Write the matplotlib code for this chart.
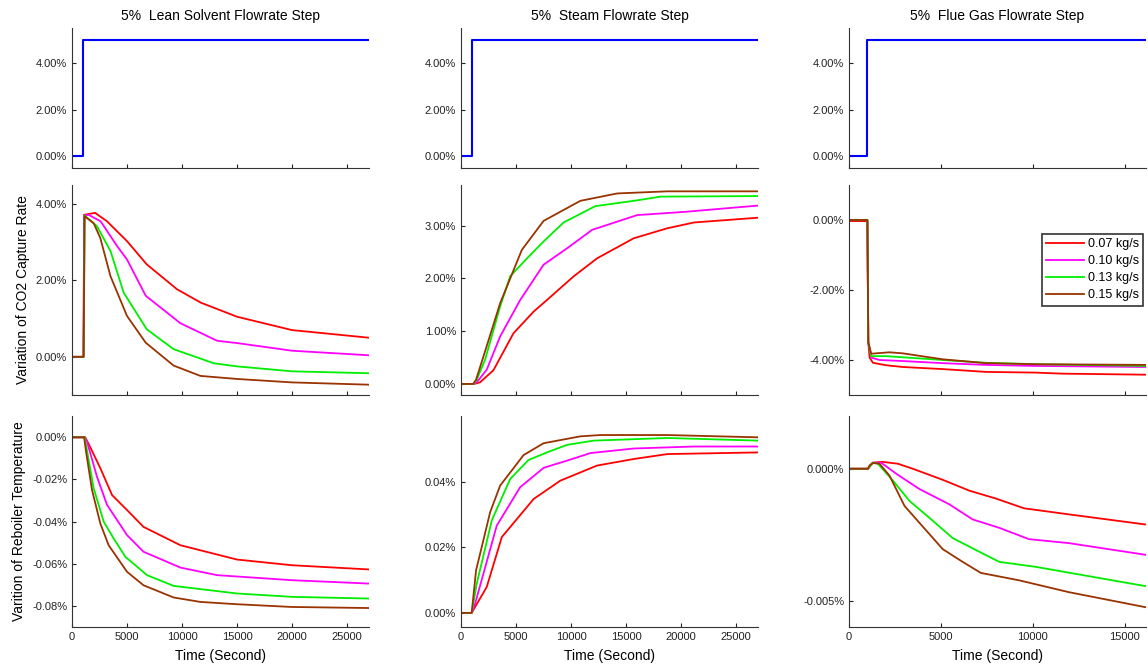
import numpy as np
import matplotlib.pyplot as plt
from matplotlib.ticker import FuncFormatter

plt.rcParams['font.family'] = ['Liberation Sans', 'DejaVu Sans']

# Legend / series
labels = ["0.07 kg/s", "0.10 kg/s", "0.13 kg/s", "0.15 kg/s"]
colors = ["#ff0000", "#ff00ff", "#00ee00", "#993300"]

titles = ["5%  Lean Solvent Flowrate Step", "5%  Steam Flowrate Step", "5%  Flue Gas Flowrate Step"]

# Step input (%)
step_t = [0, 1000, 1000, 27000]
step_v = [0, 0, 5, 5]

# Lean solvent step - CO2 capture rate variation (%)
lean_cap = [
    ([0, 1050, 1100, 2100, 3180, 5000, 6800, 9545, 11700, 15000, 20000, 27000],
     [0, 0, 3.72, 3.77, 3.55, 3.03, 2.42, 1.77, 1.42, 1.05, 0.70, 0.50]),
    ([0, 1050, 1100, 1500, 2600, 4100, 5000, 6700, 9850, 13200, 15000, 20000, 27000],
     [0, 0, 3.70, 3.72, 3.55, 2.90, 2.55, 1.60, 0.88, 0.42, 0.36, 0.16, 0.04]),
    ([0, 1050, 1150, 2270, 3500, 4700, 6800, 9240, 12900, 15000, 20000, 27000],
     [0, 0, 3.70, 3.42, 2.77, 1.68, 0.72, 0.20, -0.17, -0.25, -0.38, -0.43]),
    ([0, 1050, 1150, 1970, 2575, 3500, 5000, 6700, 9240, 11670, 15000, 20000, 27000],
     [0, 0, 3.68, 3.50, 3.11, 2.11, 1.07, 0.37, -0.23, -0.50, -0.58, -0.67, -0.73]),
]

# Lean solvent step - reboiler temperature variation (%)
lean_temp = [
    ([0, 1200, 1500, 2580, 3640, 5000, 6500, 9850, 15000, 20000, 27000],
     [0, 0, -0.003, -0.0147, -0.0274, -0.0345, -0.0425, -0.0512, -0.058, -0.0607, -0.0627]),
    ([0, 1150, 1360, 2270, 3180, 5000, 6500, 9850, 13180, 20000, 27000],
     [0, 0, -0.002, -0.0187, -0.032, -0.0464, -0.0543, -0.0618, -0.0654, -0.0678, -0.0694]),
    ([0, 1150, 1300, 1970, 2880, 3790, 4850, 6820, 9240, 15000, 20000, 27000],
     [0, 0, -0.0044, -0.0242, -0.040, -0.048, -0.0567, -0.0654, -0.0705, -0.0741, -0.0757, -0.0765]),
    ([0, 1100, 1300, 1820, 2575, 3330, 5000, 6500, 9240, 11670, 15000, 20000, 27000],
     [0, 0, -0.0076, -0.025, -0.0409, -0.0512, -0.0638, -0.0702, -0.076, -0.0781, -0.0792, -0.0805, -0.081]),
]

# Steam step - CO2 capture rate variation (%)
steam_cap = [
    ([0, 1190, 1730, 2950, 4770, 6600, 7810, 10250, 12370, 15700, 18760, 21190, 27000],
     [0, 0, 0.03, 0.26, 0.96, 1.37, 1.59, 2.04, 2.38, 2.76, 2.95, 3.06, 3.15]),
    ([0, 1190, 1430, 2340, 3560, 5380, 7510, 9640, 11920, 16020, 20280, 27000],
     [0, 0, 0.03, 0.27, 0.90, 1.59, 2.26, 2.57, 2.92, 3.20, 3.26, 3.38]),
    ([0, 1150, 1430, 2190, 3560, 4470, 6140, 7510, 9330, 12220, 15720, 18150, 27000],
     [0, 0, 0.08, 0.46, 1.47, 2.04, 2.41, 2.70, 3.06, 3.37, 3.47, 3.55, 3.56]),
    ([0, 1100, 1370, 2040, 3560, 5530, 7510, 10850, 14200, 18760, 27000],
     [0, 0, 0.08, 0.52, 1.53, 2.54, 3.09, 3.47, 3.61, 3.65, 3.65]),
]

# Steam step - reboiler temperature variation (%)
steam_temp = [
    ([0, 970, 2340, 3710, 6600, 9030, 12370, 15720, 18760, 27000],
     [0, 0, 0.0079, 0.0231, 0.0347, 0.0403, 0.0449, 0.0469, 0.0484, 0.0489]),
    ([0, 970, 1280, 3250, 5380, 7510, 9640, 11770, 15720, 21190, 27000],
     [0, 0, 0.0028, 0.0266, 0.0383, 0.0442, 0.0464, 0.0487, 0.0501, 0.0507, 0.0507]),
    ([0, 970, 1430, 2800, 4470, 6140, 7810, 9640, 12070, 18760, 27000],
     [0, 0, 0.0089, 0.0282, 0.0408, 0.0466, 0.0489, 0.0512, 0.0525, 0.0533, 0.0525]),
    ([0, 970, 1370, 1880, 2650, 3560, 5690, 7510, 10850, 12680, 18760, 27000],
     [0, 0, 0.013, 0.020, 0.0307, 0.0388, 0.0481, 0.0517, 0.0538, 0.0542, 0.0542, 0.0535]),
]

# Flue gas step - CO2 capture rate variation (%)
flue_cap = [
    ([0, 1000, 1050, 1120, 1300, 2020, 2930, 5100, 7440, 10150, 11600, 16200],
     [-0.03, -0.03, -3.5, -3.93, -4.08, -4.15, -4.20, -4.26, -4.34, -4.36, -4.39, -4.42]),
    ([0, 1000, 1050, 1210, 1660, 2930, 5100, 7440, 10150, 16200],
     [0, 0, -3.5, -3.93, -4.00, -4.03, -4.09, -4.14, -4.17, -4.20]),
    ([0, 1000, 1050, 1210, 2020, 5100, 7440, 10150, 16200],
     [0, 0, -3.5, -3.89, -3.89, -4.00, -4.08, -4.12, -4.17]),
    ([0, 1000, 1050, 1210, 2200, 2930, 5100, 7440, 10150, 16200],
     [0, 0, -3.5, -3.82, -3.78, -3.81, -3.98, -4.09, -4.12, -4.14]),
]

# Flue gas step - reboiler temperature variation (%)
flue_temp = [
    ([0, 1030, 1300, 1840, 2660, 3470, 5100, 6540, 7990, 9520, 11960, 16200],
     [0, 0, 0.00023, 0.00026, 0.00019, 0, -0.00042, -0.00083, -0.00113, -0.0015, -0.00173, -0.00212]),
    ([0, 1030, 1300, 1750, 2570, 3830, 5460, 6720, 8170, 9790, 11960, 16200],
     [0, 0, 0.00023, 0.00023, -0.00019, -0.00077, -0.00135, -0.00192, -0.00224, -0.00267, -0.00282, -0.00327]),
    ([0, 1030, 1300, 1570, 2390, 3290, 4370, 5640, 6900, 8170, 10160, 16200],
     [0, 0, 0.00023, 0.00019, -0.00045, -0.00122, -0.00186, -0.00263, -0.00308, -0.00353, -0.00372, -0.00446]),
    ([0, 1030, 1120, 1300, 1660, 2200, 3020, 3830, 5100, 6180, 7170, 9250, 11960, 16200],
     [0, 0, 0.00013, 0.00022, 0.00019, -0.00026, -0.00141, -0.00205, -0.00305, -0.00353, -0.00395, -0.00423, -0.00468, -0.00526]),
]

fig = plt.figure(figsize=(11.48, 6.68), dpi=100)
W, H = 1148, 668

col_left = [72, 461, 849]
col_w = 297
row_box = [(28, 168), (185, 395), (416, 627)]
xmax = [27000, 27000, 16150]

responses = [[lean_cap, steam_cap, flue_cap], [lean_temp, steam_temp, flue_temp]]
ylims = [[(-1, 4.5), (-0.21, 3.77), (-5, 1)],
         [(-0.09, 0.0101), (-0.0043, 0.06), (-0.006, 0.002)]]
yticks = [[[0, 2, 4], [0, 1, 2, 3], [-4, -2, 0]],
          [[-0.08, -0.06, -0.04, -0.02, 0], [0, 0.02, 0.04], [-0.005, 0]]]
ydec = [[2, 2, 2], [2, 2, 3]]


def style(ax):
    for s in ["top", "right"]:
        ax.spines[s].set_visible(False)
    ax.spines["left"].set_color("#333333")
    ax.spines["bottom"].set_color("#333333")
    ax.tick_params(direction="in", length=3, labelsize=8, colors="#222222", width=0.8)


def pct(d):
    return FuncFormatter(lambda v, p: f"{v:.{d}f}%")


for c in range(3):
    # step row
    top, bot = row_box[0]
    ax = fig.add_axes([col_left[c] / W, 1 - bot / H, col_w / W, (bot - top) / H])
    ax.plot(step_t, step_v, color="#0000ff", lw=1.5)
    ax.set_xlim(0, xmax[c])
    ax.set_ylim(-0.5, 5.5)
    ax.set_yticks([0, 2, 4])
    ax.yaxis.set_major_formatter(pct(2))
    ax.set_xticks(np.arange(0, xmax[c], 5000))
    ax.set_xticklabels([])
    style(ax)
    ax.set_title(titles[c], fontsize=10, pad=6)

    for r in range(2):
        top, bot = row_box[r + 1]
        ax = fig.add_axes([col_left[c] / W, 1 - bot / H, col_w / W, (bot - top) / H])
        for (t, v), col, lab in zip(responses[r][c], colors, labels):
            ax.plot(t, v, color=col, lw=1.3, label=lab)
        ax.set_xlim(0, xmax[c])
        ax.set_ylim(*ylims[r][c])
        ax.set_yticks(yticks[r][c])
        ax.yaxis.set_major_formatter(pct(ydec[r][c]))
        ax.set_xticks(np.arange(0, xmax[c], 5000))
        style(ax)
        if r == 0:
            ax.set_xticklabels([])
        else:
            ax.set_xlabel("Time (Second)", fontsize=10, labelpad=5)
        if c == 0:
            ax.set_ylabel(["Variation of CO2 Capture Rate", "Varition of Reboiler Temperature"][r],
                          fontsize=10, labelpad=4)
        if r == 0 and c == 2:
            leg = ax.legend(loc="upper right", bbox_to_anchor=(0.99, 0.767), borderaxespad=0,
                            fontsize=9, frameon=True, fancybox=False, handlelength=3.0,
                            borderpad=0.35, labelspacing=0.4, handletextpad=0.3)
            leg.get_frame().set_edgecolor("black")
            leg.get_frame().set_linewidth(1.2)

fig.savefig("out.png", dpi=100)
